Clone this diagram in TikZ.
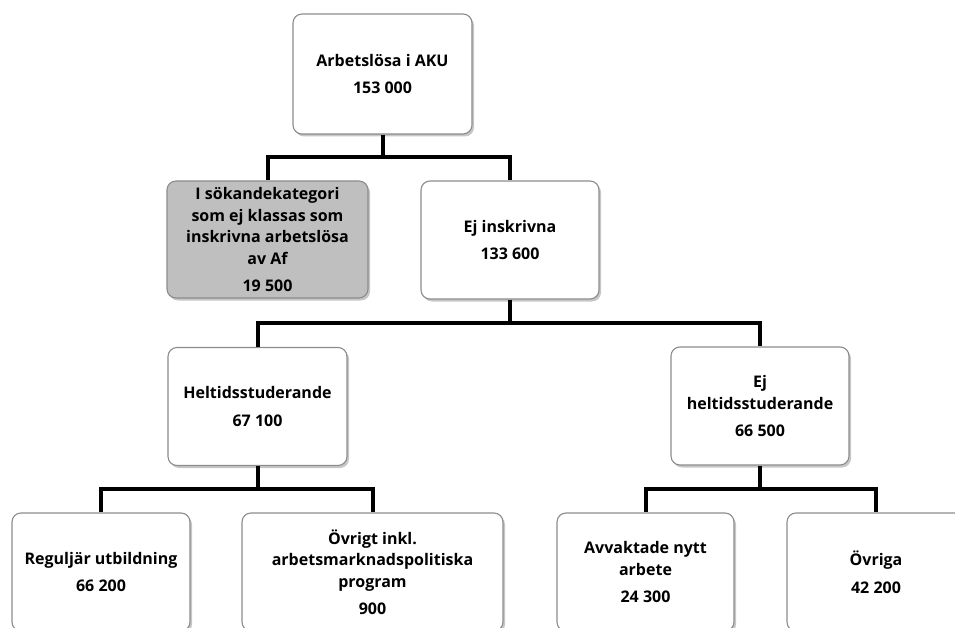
\documentclass[tikz,border=0pt]{standalone}
\usepackage{fontspec}
\setmainfont{Open Sans}
\usetikzlibrary{shadows}

\tikzset{
  box/.style={draw=black!45, line width=1.1pt, rounded corners=9pt, fill=white,
    drop shadow={shadow xshift=2pt, shadow yshift=-2.5pt, fill=black, opacity=0.22},
    align=center, inner sep=2pt, minimum height=118pt,
    font=\fontsize{16}{21.5}\selectfont\bfseries},
  conn/.style={line width=4pt, black},
}

\begin{document}
\begin{tikzpicture}[x=1pt, y=-1pt]

  % ============================================================
  % Frame: the picture is cut off at the bottom and right edge
  % ============================================================
  \useasboundingbox (0,0) rectangle (955,628);
  \clip (0,0) rectangle (955,628);

  % ============================================================
  % Level 0 -- all unemployed
  % ============================================================
  \node[box, minimum width=179pt, minimum height=120pt] (rot) at (382.5,74)
        {Arbetslösa i AKU\\[6pt]153 000};

  % ============================================================
  % Level 1
  % ============================================================
  \node[box, fill=black!25, minimum width=201pt, minimum height=117pt] (saknas) at (267.5,239.5)
        {I sökandekategori\\som ej klassas som\\inskrivna arbetslösa\\av Af\\[6pt]19 500};
  \node[box, minimum width=178pt] (ejinskr) at (510,240)
        {Ej inskrivna\\[6pt]133 600};

  % ============================================================
  % Level 2
  % ============================================================
  \node[box, minimum width=179pt] (helt) at (257.5,406.5)
        {Heltidsstuderande\\[6pt]67 100};
  \node[box, minimum width=178pt] (ejhelt) at (760,406)
        {Ej\\heltidsstuderande\\[6pt]66 500};

  % ============================================================
  % Level 3 (boxes run past the lower edge)
  % ============================================================
  \node[box, minimum width=178pt] (regul)  at (101,572)
        {Reguljär utbildning\\[6pt]66 200};
  \node[box, minimum width=261pt] (ovrigt) at (372.5,572)
        {Övrigt inkl.\\arbetsmarknadspolitiska\\program\\[6pt]900};
  \node[box, minimum width=177pt] (avvakt) at (645.5,572)
        {Avvaktade nytt\\arbete\\[6pt]24 300};
  \node[box, minimum width=178pt] (ovriga) at (876,572)
        {Övriga\\[6pt]42 200};

  % ============================================================
  % Connectors: parent -> branch point -> children
  % ============================================================
  \coordinate (b0) at (382.5,157);
  \coordinate (b1) at (510,323);
  \coordinate (b2) at (257.5,489);
  \coordinate (b3) at (760,489);

  \draw[conn] (rot.south) -- (b0);
  \foreach \c in {saknas,ejinskr}
    \draw[conn] (b0) -| (\c.north);

  \draw[conn] (ejinskr.south) -- (b1);
  \foreach \c in {helt,ejhelt}
    \draw[conn] (b1) -| (\c.north);

  \draw[conn] (helt.south) -- (b2);
  \foreach \c in {regul,ovrigt}
    \draw[conn] (b2) -| (\c.north);

  \draw[conn] (ejhelt.south) -- (b3);
  \foreach \c in {avvakt,ovriga}
    \draw[conn] (b3) -| (\c.north);

\end{tikzpicture}
\end{document}
